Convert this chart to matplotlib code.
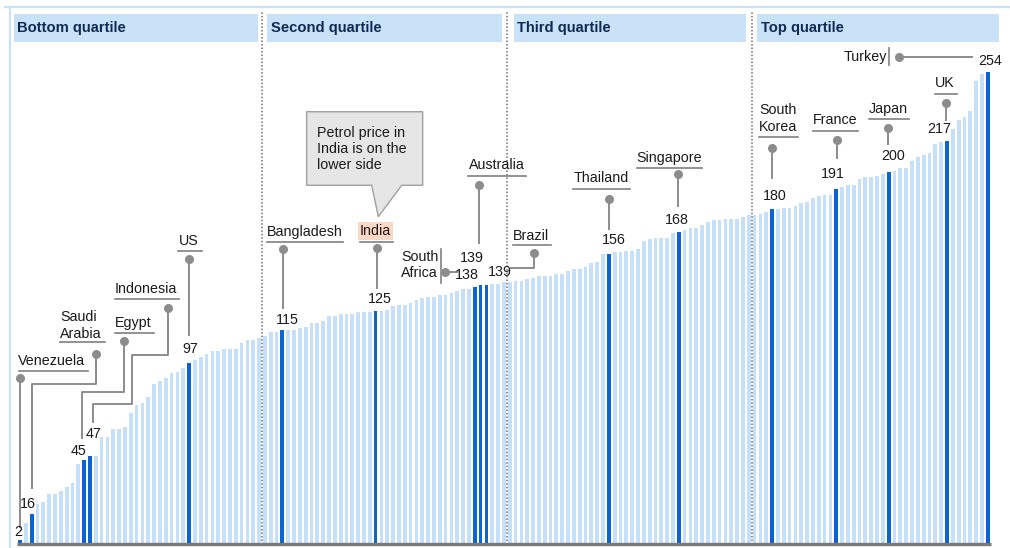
import matplotlib.pyplot as plt
from matplotlib.patches import Rectangle, Polygon

# petrol price index, countries sorted low -> high
values = [2, 11, 16, 21.5, 22.6, 26.7, 26.7, 28.5, 30.7, 32.8,
          42.9, 45, 47, 47, 57.6, 57.6, 61.7, 61.7, 62.8, 70.2,
          74.6, 75.9, 78.8, 86.1, 87.7, 89, 91.7, 92.4, 94.7, 97,
          98.9, 100.6, 101.9, 103.7, 103.7, 104.8, 104.8, 104.8, 107.8, 109.6,
          109.6, 110.9, 112, 113.8, 113.8, 115, 115, 115, 115.9, 116.8,
          118.6, 118.6, 119.9, 122.5, 122.5, 123.6, 123.7, 123.8, 124.9, 124.9,
          124.9, 125, 125, 125.8, 127.9, 128.5, 128.5, 129.7, 131.2, 132.1,
          133, 133, 133.9, 133.9, 135.1, 136, 137.1, 137.1, 138, 139,
          139, 139.6, 139.6, 141, 141, 141.4, 141.5, 142.6, 142.8, 143.9,
          143.9, 143.9, 145.2, 145.2, 146.9, 148, 148, 149.1, 150.9, 151.8,
          155.8, 156, 157, 157, 157.5, 157.5, 158.6, 162.7, 164.2, 164.5,
          164.5, 164.5, 167, 168, 168.8, 169.7, 169.7, 171.5, 173.1, 174.2,
          174.2, 174.8, 174.8, 174.8, 176, 176.9, 176.9, 177.4, 178.5, 180,
          180.1, 180.7, 180.7, 181.8, 183.2, 184.1, 185.9, 187.1, 187.7, 187.7,
          191, 192.1, 193, 193, 196.1, 197.4, 197.4, 197.9, 198.8, 200,
          200.8, 202, 202, 206, 208, 209, 210.1, 215, 216, 217,
          223.2, 228, 229.5, 232.9, 249.2, 252.8, 254]

countries = ["Venezuela", "Saudi\nArabia", "Egypt", "Indonesia", "US", "Bangladesh",
             "India", "South\nAfrica", "Australia", "Brazil", "Thailand", "Singapore",
             "South\nKorea", "France", "Japan", "UK", "Turkey"]
country_idx = [0, 2, 11, 12, 29, 45, 61, 78, 79, 80, 101, 113, 129, 140, 149, 159, 166]

quartiles = ["Bottom quartile", "Second quartile", "Third quartile", "Top quartile"]
quartile_breaks = [41.5, 83.5, 125.5]

note = "Petrol price in\nIndia is on the\nlower side"

# label layout: text (x, y, ha), underline (x0, x1, y) or tick (x, y0, y1),
# leader path starting at the dot, number label (x, y)
layout = {
    "Venezuela": dict(text=(-0.34, 98.3, "left"), under=(-0.22, 11.66, 92.9),
                      path=[(0, 89.3), (0, 9.1)], num=(-0.3, 6.5)),
    "Saudi\nArabia": dict(text=(6.86, 117.7, "left"), under=(6.86, 14.58, 108.4),
                          path=[(13.04, 101.9), (13.04, 86.0), (2.0, 86.0), (2.0, 29.8)],
                          num=(1.37, 21.4)),
    "Egypt": dict(text=(16.3, 118.8, "left"), under=(16.3, 22.98, 113.4),
                  path=[(17.84, 109.1), (17.84, 81.8), (10.58, 81.8), (10.58, 56.9)],
                  num=(10.07, 50.1)),
    "Indonesia": dict(text=(16.3, 137.1, "left"), under=(16.3, 27.27, 131.7),
                      path=[(25.33, 126.9), (25.33, 101.6), (19.16, 101.6), (19.16, 75.2),
                            (12.47, 75.2), (12.47, 65.7)],
                      num=(12.64, 58.9)),
    "US": dict(text=(27.3, 162.8, "left"), under=(27.1, 31.2, 157.5),
               path=[(28.99, 153.2), (28.99, 112.3)], num=(29.28, 104.8)),
    "Bangladesh": dict(text=(42.37, 167.9, "left"), under=(42.3, 55.45, 162.5),
                       path=[(45.16, 158.6), (45.16, 126.7)], num=(45.85, 120.4)),
    "India": dict(text=(58.32, 168.3, "left"), under=(58.32, 63.93, 162.5),
                  path=[(61.18, 159.0), (61.18, 137.5)], num=(61.8, 131.7)),
    "South\nAfrica": dict(text=(65.35, 150.0, "left"), tick=(72.16, 140.3, 158.6),
                          path=[(72.9, 146.4), (74.9, 146.4)], num=(76.67, 144.6)),
    "Australia": dict(text=(77.0, 203.8, "left"), under=(76.84, 86.79, 198.1),
                      path=[(78.78, 193.1), (78.78, 162.0)], num=(77.48, 153.6)),
    "Brazil": dict(text=(84.5, 165.8, "left"), under=(84.5, 91.08, 160.6),
                   path=[(88.21, 156.6), (88.21, 148.2), (84.17, 148.2)], num=(82.33, 146.4)),
    "Thailand": dict(text=(95.03, 196.7, "left"), under=(94.85, 104.63, 190.9),
                     path=[(101.03, 185.7), (101.03, 169.2)], num=(101.77, 163.5)),
    "Singapore": dict(text=(105.78, 207.4, "left"), under=(105.78, 116.98, 202.0),
                      path=[(112.81, 198.8), (112.81, 181.9)], num=(112.64, 174.2)),
    "South\nKorea": dict(text=(126.76, 229.0, "left"), under=(126.76, 133.45, 219.1),
                         path=[(128.94, 213.1), (128.94, 196.7)], num=(129.38, 187.1)),
    "France": dict(text=(136.02, 228.0, "left"), under=(136.02, 143.74, 222.3),
                   path=[(140.09, 217.3), (140.09, 207.4)], num=(139.5, 198.8)),
    "Japan": dict(text=(145.63, 233.8, "left"), under=(145.63, 152.49, 228.6),
                  path=[(148.94, 223.6), (148.94, 215.1)], num=(149.69, 208.7)),
    "UK": dict(text=(156.95, 247.8, "left"), under=(156.95, 160.72, 242.0),
               path=[(158.88, 237.0), (158.88, 228.0)], num=(157.63, 223.0)),
    "Turkey": dict(text=(148.71, 261.8, "right"), tick=(149.11, 257.7, 266.8),
                   path=[(150.77, 262.1), (163.24, 262.1)], num=(166.38, 259.8)),
}

light = "#c6e0fa"
dark = "#0b64cf"
grey = "#8c8c8c"
fam = ["Liberation Sans", "DejaVu Sans"]
fs = 10.3

fig = plt.figure(figsize=(10.1, 5.48), dpi=100)
ax = fig.add_axes([0, 0, 1, 1])
ax.set_xlim(-3.43, 169.81)
ax.set_ylim(-2.31, 292.63)
ax.axis("off")

colors = [light] * len(values)
for i in country_idx:
    colors[i] = dark
ax.bar(range(len(values)), values, width=0.64, color=colors, zorder=2)

# baseline
ax.plot([-0.5, 166.5], [0, 0], color="#7a7a7a", lw=2.4, zorder=3, solid_capstyle="butt")

# frame lines top / left
ax.plot([-2.6, 169.81], [288.7, 288.7], color="#c9e2f8", lw=1.6, clip_on=False)
ax.plot([-1.8, -1.8], [-2.31, 288.7], color="#c9e2f8", lw=1.6, clip_on=False)

# quartile separators
for b in quartile_breaks:
    ax.plot([b, b], [1.5, 286.5], color="#707070", lw=1.1, ls=(0, (1, 1.3)), zorder=1)

# quartile headers
edges = [(-1.06, 40.82), (42.37, 82.67), (84.67, 124.53), (126.42, 167.85)]
for (x0, x1), q in zip(edges, quartiles):
    ax.add_patch(Rectangle((x0, 270.0), x1 - x0, 15.1, facecolor="#c9e2f8",
                           edgecolor="none", zorder=1))
    ax.text(x0 + 0.6, 277.6, q, ha="left", va="center", fontsize=10.6,
            fontweight="bold", color="#102a54", family=fam)

# country labels and leaders
for name, i in zip(countries, country_idx):
    lay = layout[name]
    tx, ty, ha = lay["text"]
    kw = {}
    if name == "India":
        kw["bbox"] = dict(boxstyle="square,pad=0.12", facecolor="#fcd9c4", edgecolor="none")
    ax.text(tx, ty, name, ha=ha, va="center", fontsize=fs, family=fam,
            color="#1a1a1a", linespacing=1.27, zorder=5, **kw)
    if "under" in lay:
        x0, x1, uy = lay["under"]
        ax.plot([x0, x1], [uy, uy], color="#808080", lw=1.2, zorder=4)
    if "tick" in lay:
        kx, y0, y1 = lay["tick"]
        ax.plot([kx, kx], [y0, y1], color="#808080", lw=1.2, zorder=4)
    xs = [p[0] for p in lay["path"]]
    ys = [p[1] for p in lay["path"]]
    ax.plot(xs, ys, color=grey, lw=1.4, zorder=4)
    ax.plot(xs[0], ys[0], "o", ms=6.5, color=grey, mec="none", zorder=5)
    nx, ny = lay["num"]
    ax.text(nx, ny, f"{values[i]:.0f}", ha="center", va="center", fontsize=fs,
            family=fam, color="#1a1a1a", zorder=5)

# callout about India
box = [(49.17, 232.5), (69.07, 232.5), (69.07, 192.9), (65.47, 192.9),
       (61.46, 176.0), (60.33, 192.9), (49.17, 192.9)]
ax.add_patch(Polygon(box, closed=True, facecolor="#e6e6e6", edgecolor="#a0a0a0",
                     lw=1.0, zorder=5))
ax.text(51.0, 212.4, note, ha="left", va="center", fontsize=fs, family=fam,
        color="#1a1a1a", linespacing=1.22, zorder=6)

fig.savefig("out.png", dpi=100)
